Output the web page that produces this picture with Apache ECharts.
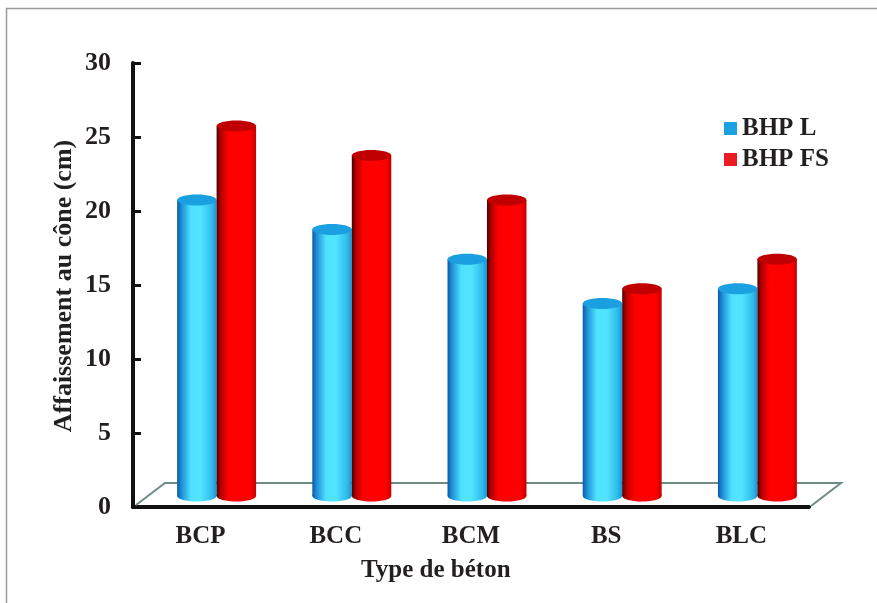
<!DOCTYPE html>
<html>
<head>
<meta charset="utf-8">
<script src="https://cdn.jsdelivr.net/npm/echarts@6/dist/echarts.min.js"></script>
<style>
  html, body { margin: 0; padding: 0; background: #ffffff; }
  #chart { width: 877px; height: 603px; }
</style>
</head>
<body>
<div id="chart"></div>
<script>
// Slump test results by concrete type
const categories = ['BCP', 'BCC', 'BCM', 'BS', 'BLC'];
const seriesNames = ['BHP L', 'BHP FS'];
const bhpL = [20, 18, 16, 13, 14];
const bhpFS = [25, 23, 20, 14, 16];
const yTicks = { min: 0, max: 30, interval: 5 };

const FONT = '"Liberation Serif", "Times New Roman", serif';
const TEXT = '#231f20';

// pseudo-3D depth: bars sit half-way into the floor, floor back edge at full depth
const DEPTH_X = 32, DEPTH_Y = -24;
const BAR_DX = 16, BAR_DY = -11;
const BAR_FRAC = 0.292;

const blueBody = [
  { offset: 0, color: '#0a58a0' },
  { offset: 0.1, color: '#1b8ad4' },
  { offset: 0.35, color: '#4fe2ff' },
  { offset: 0.6, color: '#52e4ff' },
  { offset: 0.88, color: '#2fbcec' },
  { offset: 1, color: '#1a92d4' }
];
const redBody = [
  { offset: 0, color: '#4a0000' },
  { offset: 0.1, color: '#b00000' },
  { offset: 0.3, color: '#ff0000' },
  { offset: 0.85, color: '#ff0000' },
  { offset: 1, color: '#c40000' }
];

function cylinder(body, topColor, side) {
  return function (params, api) {
    const idx = api.value(0);
    const val = api.value(1);
    const base = api.coord([idx, 0]);
    const top = api.coord([idx, val]);
    const band = api.size([1, 0])[0];
    const w = band * BAR_FRAC;
    const cx = base[0] + BAR_DX;
    const x0 = side < 0 ? cx - w : cx;
    const yb = base[1] + BAR_DY;
    const yt = top[1] + BAR_DY;
    const ry = 5.5;
    const fill = { type: 'linear', x: 0, y: 0, x2: 1, y2: 0, colorStops: body };
    return {
      type: 'group',
      children: [
        { type: 'ellipse', shape: { cx: x0 + w / 2, cy: yb, rx: w / 2, ry: ry }, style: { fill: fill } },
        { type: 'rect', shape: { x: x0, y: yt, width: w, height: yb - yt }, style: { fill: fill } },
        { type: 'ellipse', shape: { cx: x0 + w / 2, cy: yt, rx: w / 2, ry: ry }, style: { fill: topColor } }
      ]
    };
  };
}

function floorPlane(params, api) {
  const cs = params.coordSys;
  const xl = cs.x, xr = cs.x + cs.width, yf = cs.y + cs.height;
  return {
    type: 'polyline',
    shape: { points: [[xl + 3, yf - 2], [xl + DEPTH_X, yf + DEPTH_Y], [xr + DEPTH_X, yf + DEPTH_Y], [xr + 2, yf - 1]] },
    style: { stroke: '#6e8b87', lineWidth: 2, fill: null }
  };
}

const chart = echarts.init(document.getElementById('chart'), null, { renderer: 'canvas' });

chart.setOption({
  animation: false,
  backgroundColor: '#ffffff',
  textStyle: { fontFamily: FONT },
  grid: { left: 133, right: 68, top: 63, bottom: 96 },
  legend: {
    data: seriesNames,
    orient: 'vertical',
    left: 719,
    top: 111,
    icon: 'rect',
    itemWidth: 13,
    itemHeight: 13,
    itemGap: 6,
    textStyle: { fontFamily: FONT, fontWeight: 'bold', fontSize: 25, color: TEXT, lineHeight: 25 }
  },
  xAxis: {
    type: 'category',
    data: categories,
    boundaryGap: true,
    axisLine: { lineStyle: { color: '#111', width: 4 } },
    axisTick: { inside: true, length: 8, lineStyle: { color: '#111', width: 3 } },
    axisLabel: { margin: 17, fontFamily: FONT, fontWeight: 'bold', fontSize: 25, color: TEXT },
    splitLine: { show: false }
  },
  yAxis: {
    type: 'value',
    min: yTicks.min,
    max: yTicks.max,
    interval: yTicks.interval,
    axisLine: { show: true, lineStyle: { color: '#111', width: 4 } },
    axisTick: { show: true, inside: true, length: 8, lineStyle: { color: '#111', width: 3 } },
    axisLabel: { margin: 22, fontFamily: FONT, fontWeight: 'bold', fontSize: 26, color: TEXT },
    splitLine: { show: false }
  },
  graphic: [
    { type: 'rect', z: -10, shape: { x: 6.5, y: 8.5, width: 1000, height: 1000 }, style: { fill: null, stroke: '#9a9a9a', lineWidth: 1.5 } },
    { type: 'text', left: 361, top: 558, style: { text: 'Type de béton', font: 'bold 25px ' + FONT, fill: TEXT } },
    { type: 'text', x: 64, y: 286, rotation: Math.PI / 2, style: { text: 'Affaissement au cône (cm)', font: 'bold 26px ' + FONT, fill: TEXT, align: 'center', verticalAlign: 'middle' } }
  ],
  series: [
    { type: 'custom', name: 'floor', silent: true, renderItem: floorPlane, data: [[0, 0]], clip: false, z: 1 },
    {
      type: 'custom', name: seriesNames[0], renderItem: cylinder(blueBody, '#1a9fe0', -1),
      itemStyle: { color: '#1ba1e2' }, clip: false, z: 2,
      data: bhpL.map((v, i) => [i, v])
    },
    {
      type: 'custom', name: seriesNames[1], renderItem: cylinder(redBody, '#c00000', 1),
      itemStyle: { color: '#ed1c24' }, clip: false, z: 3,
      data: bhpFS.map((v, i) => [i, v])
    }
  ]
});
</script>
</body>
</html>
